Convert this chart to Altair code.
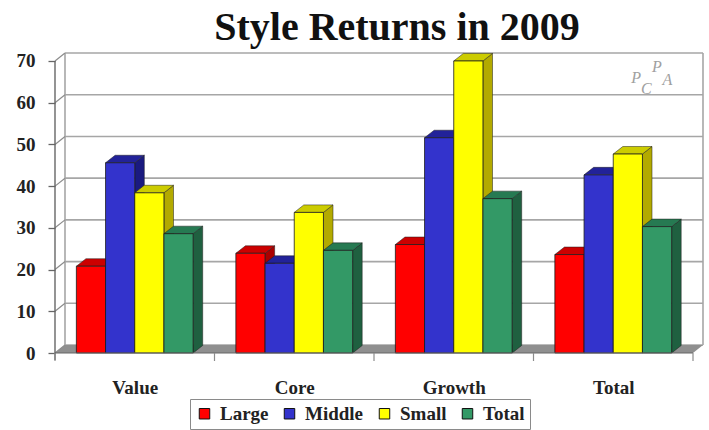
import altair as alt
import pandas as pd

categories = ["Value", "Core", "Growth", "Total"]
large = [20.8, 23.9, 26.0, 23.6]
middle = [45.6, 21.5, 51.6, 42.7]
small = [38.4, 33.7, 70.0, 47.7]
total = [28.6, 24.6, 37.0, 30.3]

series_names = ["Large", "Middle", "Small", "Total"]
series_values = [large, middle, small, total]
front_colors = ["#ff0000", "#3333cc", "#ffff00", "#339966"]
top_colors = ["#cc0000", "#222299", "#cccc00", "#267a52"]
side_colors = ["#aa0000", "#1a1a80", "#b3aa00", "#1f6040"]

y_ticks = [0, 10, 20, 30, 40, 50, 60, 70]
x_boundaries = [0, 1, 2, 3, 4]

# Oblique projection, in axis units
WALL_DX = 0.0627
WALL_DY = 1.91
BAR_DX = 0.06
BAR_DY = 1.8
BAR_W = 0.183
GROUP_START = 0.134

FONT = "Liberation Serif"
x_scale = alt.Scale(domain=[0, 4 + WALL_DX], nice=False, zero=False)
y_scale = alt.Scale(domain=[0, 70 + WALL_DY], nice=False, zero=False)
X = lambda f, **kw: alt.X(f, type="quantitative", scale=x_scale, **kw)
Y = lambda f, **kw: alt.Y(f, type="quantitative", scale=y_scale, **kw)

fronts, tops, sides = [], [], []
for s_i, (name, values) in enumerate(zip(series_names, series_values)):
    for c_i, v in enumerate(values):
        left = c_i + GROUP_START + s_i * BAR_W
        right = left + BAR_W
        key = f"{name}-{c_i}"
        fronts.append(dict(series=name, s=s_i, x0=left, x1=right, y0=0, y1=v))
        # Receding right-hand face
        sides += [
            dict(s=s_i, key=key, x=right, hi=v, lo=0),
            dict(s=s_i, key=key, x=right + BAR_DX, hi=v + BAR_DY, lo=BAR_DY),
        ]
        # Receding top face
        tops += [
            dict(s=s_i, key=key, x=left, hi=v, lo=v),
            dict(s=s_i, key=key, x=left + BAR_DX, hi=v + BAR_DY, lo=v),
            dict(s=s_i, key=key, x=right, hi=v + BAR_DY, lo=v),
            dict(s=s_i, key=key, x=right + BAR_DX, hi=v + BAR_DY, lo=v + BAR_DY),
        ]
fronts, tops, sides = pd.DataFrame(fronts), pd.DataFrame(tops), pd.DataFrame(sides)

ticks_df = pd.DataFrame({"v": y_ticks})
ticks_df["back"] = ticks_df["v"] + WALL_DY
bounds_df = pd.DataFrame({"b": x_boundaries})

GRID = "#a6a6a6"
wall_lines = alt.Chart(ticks_df).mark_rule(color=GRID, strokeWidth=1.6).encode(
    x=alt.datum(WALL_DX, type="quantitative", scale=x_scale),
    x2=alt.datum(4 + WALL_DX),
    y=Y("back"),
)
side_lines = alt.Chart(ticks_df).mark_rule(color="#8c8c8c", strokeWidth=1.2).encode(
    x=alt.datum(0, type="quantitative", scale=x_scale),
    x2=alt.datum(WALL_DX),
    y=Y("v"),
    y2="back",
)
wall_edges = alt.Chart(pd.DataFrame({"x": [WALL_DX, 4 + WALL_DX]})).mark_rule(color=GRID, strokeWidth=1.6).encode(
    x=X("x"),
    y=alt.datum(WALL_DY, type="quantitative", scale=y_scale),
    y2=alt.datum(70 + WALL_DY),
)
floor = alt.Chart(pd.DataFrame({
    "x": [0, WALL_DX, 4, 4 + WALL_DX],
    "hi": [0, WALL_DY, WALL_DY, WALL_DY],
    "lo": [0, 0, 0, WALL_DY],
})).mark_area(color="#8f8f8f", interpolate="linear").encode(x=X("x"), y=Y("hi"), y2="lo")

left_axis = alt.Chart(pd.DataFrame({"x": [0]})).mark_rule(color="#666666", strokeWidth=1.4).encode(
    x=X("x"),
    y=alt.datum(70, type="quantitative", scale=y_scale),
    y2=alt.value(307),
)
base_line = alt.Chart(pd.DataFrame({"x": [0]})).mark_rule(color="#666666", strokeWidth=1.2).encode(
    x=X("x"),
    x2=alt.datum(4),
    y=alt.datum(0, type="quantitative", scale=y_scale),
)
x_ticks = alt.Chart(bounds_df).mark_rule(color="#8c8c8c", strokeWidth=1.2).encode(
    x=X("b"),
    y=alt.datum(0, type="quantitative", scale=y_scale),
    y2=alt.value(308),
)

# Carries both axes: the y ticks and the centred category labels
label_expr = "{0.5:'Value',1.5:'Core',2.5:'Growth',3.5:'Total'}[datum.value]"
axes = alt.Chart(ticks_df).mark_point(opacity=0).encode(
    x=alt.datum(0, type="quantitative", scale=x_scale, axis=alt.Axis(
        values=[0.5, 1.5, 2.5, 3.5], labelExpr=label_expr, title=None, grid=False, domain=False,
        ticks=False, labelPadding=25, labelFont=FONT, labelFontSize=19, labelFontWeight="bold",
        labelColor="#222222")),
    y=Y("v", axis=alt.Axis(
        values=y_ticks, title=None, grid=False, domain=False, tickSize=7, tickColor="#666666",
        tickWidth=1.3, labelPadding=13, labelFont=FONT, labelFontSize=19, labelFontWeight="bold",
        labelColor="#222222")),
)

bar_layers = []
for s_i in range(4):
    side = alt.Chart(sides[sides.s == s_i]).mark_area(
        color=side_colors[s_i], interpolate="linear", stroke="#1c1c1c", strokeWidth=0.5
    ).encode(x=X("x"), y=Y("hi"), y2="lo", detail="key:N")
    top = alt.Chart(tops[tops.s == s_i]).mark_area(
        color=top_colors[s_i], interpolate="linear", stroke="#1c1c1c", strokeWidth=0.5
    ).encode(x=X("x"), y=Y("hi"), y2="lo", detail="key:N")
    front = alt.Chart(fronts[fronts.s == s_i]).mark_rect(stroke="#1c1c1c", strokeWidth=0.8).encode(
        x=X("x0"), x2="x1", y=Y("y0"), y2="y1",
        color=alt.Color("series:N", scale=alt.Scale(domain=series_names, range=front_colors),
                        sort=series_names, legend=alt.Legend(
            orient="none", legendX=135, legendY=346, direction="horizontal", columns=4, title=None,
            symbolType="square", symbolSize=110, symbolStrokeColor="#111111", symbolStrokeWidth=1,
            labelFont=FONT, labelFontSize=19, labelFontWeight="bold", labelColor="#222222",
            strokeColor="#8a8a8a", padding=5, columnPadding=11, labelOffset=6, symbolOpacity=1)),
    )
    bar_layers += [side, top, front]

logo_letters = ["P", "C", "P", "A"]
logo_x = [3.643, 3.708, 3.774, 3.839]
logo_y = [65.9, 63.3, 68.5, 65.4]
logo = alt.Chart(pd.DataFrame({"t": logo_letters, "x": logo_x, "y": logo_y})).mark_text(
    font=FONT, fontSize=16, fontStyle="italic", color="#a0a0a0"
).encode(x=X("x"), y=Y("y"), text="t:N")

chart = alt.layer(
    wall_lines, wall_edges, floor, side_lines, logo, axes, *bar_layers, base_line, left_axis, x_ticks
).properties(
    width=648,
    height=300,
    padding={"left": 55, "top": 53, "right": 6, "bottom": 77},
    autosize=alt.AutoSizeParams(type="none"),
    title=alt.TitleParams(
        "Style Returns in 2009", font=FONT, fontSize=40, fontWeight="bold", color="#111111",
        anchor="middle", dx=18, offset=4),
).configure_view(stroke=None)

chart.save("out.html", embed_options={"renderer": "svg", "actions": False})
